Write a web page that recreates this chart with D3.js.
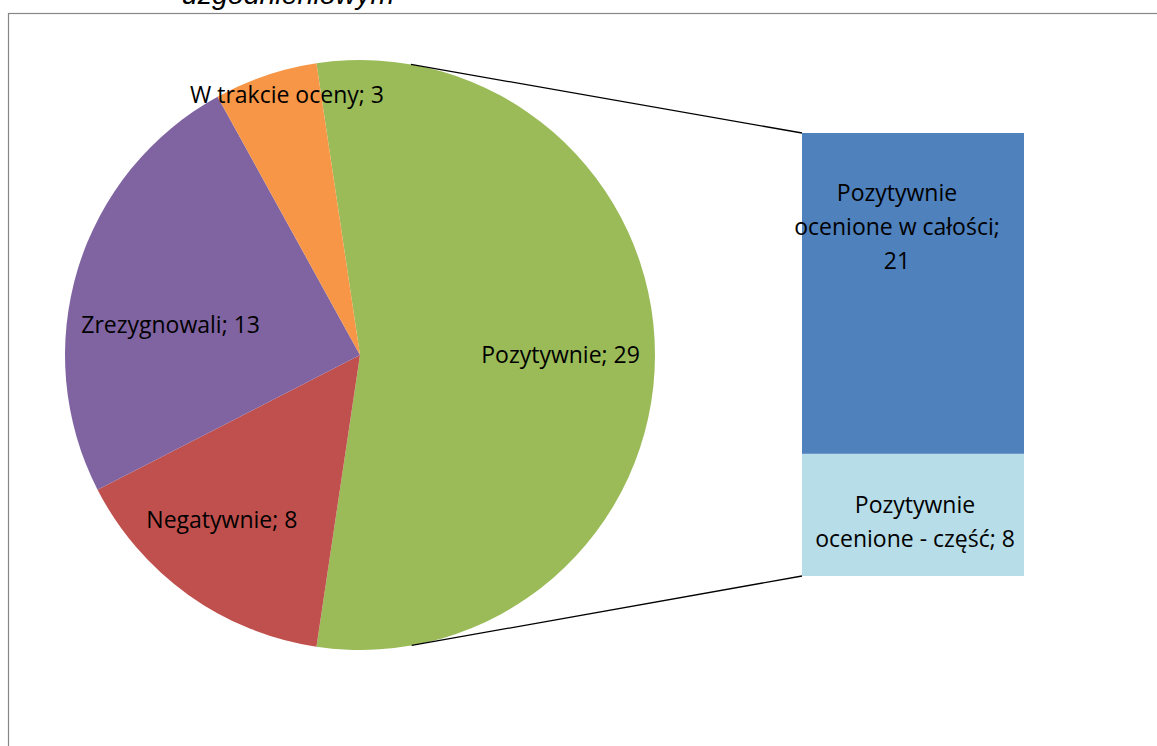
<!DOCTYPE html>
<html>
<head>
<meta charset="utf-8">
<script src="https://cdn.jsdelivr.net/npm/d3@7"></script>
<style>
  html, body { margin: 0; padding: 0; background: #fff; }
  svg { display: block; }
</style>
</head>
<body>
<svg id="chart" width="1157" height="746"></svg>
<script>
// ---- data ----
const titleLines = ["uzgodnieniowym"];
const pieCategories = ["Pozytywnie", "Negatywnie", "Zrezygnowali", "W trakcie oceny"];
const pieValues = [29, 8, 13, 3];
const barCategories = ["Pozytywnie ocenione - część", "Pozytywnie ocenione w całości"];
const barValues = [8, 21];

// ---- styles / layout ----
const pieColors = ["#9BBB59", "#C0504D", "#8064A2", "#F79646"];
const barColors = ["#B7DDE8", "#4F81BD"];
const labelFont = "'Open Sans', sans-serif";
const labelSize = 23;
// label anchor: [angle in degrees clockwise from 12 o'clock, radius fraction]
const pieLabelAnchors = [[90, 0.68], [219.9, 0.73], [279, 0.65], [344.3, 0.915]];
// line wrapping of bar labels
const barLabelWrap = [["Pozytywnie", "ocenione - część; 8"], ["Pozytywnie", "ocenione w całości;", "21"]];
const barLabelCenterX = [915, 897];

const svg = d3.select("#chart");

// frame
svg.append("rect")
  .attr("x", 8.5).attr("y", 13.5)
  .attr("width", 1200).attr("height", 800)
  .attr("fill", "none").attr("stroke", "#868686").attr("stroke-width", 1.2);

// title (only the last line is visible)
svg.append("text")
  .attr("x", 288).attr("y", 4)
  .attr("text-anchor", "middle")
  .attr("font-family", "'Liberation Sans', Arial, sans-serif")
  .attr("font-style", "italic")
  .attr("font-size", 28.5)
  .attr("fill", "#000")
  .text(titleLines[titleLines.length - 1]);

// ---- pie ----
const cx = 360, cy = 355, R = 295;
const total = d3.sum(pieValues);
const start = Math.PI / 2 - Math.PI * pieValues[0] / total;
const pie = d3.pie().sort(null).value(d => d).startAngle(start).endAngle(start + 2 * Math.PI);
const arcs = pie(pieValues);
const arc = d3.arc().innerRadius(0).outerRadius(R);

const gPie = svg.append("g").attr("transform", `translate(${cx},${cy})`);
gPie.selectAll("path").data(arcs).enter().append("path")
  .attr("d", arc)
  .attr("fill", (d, i) => pieColors[i]);

gPie.selectAll("text.pl").data(arcs).enter().append("text")
  .attr("class", "pl")
  .attr("x", (d, i) => Math.sin(pieLabelAnchors[i][0] * Math.PI / 180) * R * pieLabelAnchors[i][1])
  .attr("y", (d, i) => -Math.cos(pieLabelAnchors[i][0] * Math.PI / 180) * R * pieLabelAnchors[i][1])
  .attr("dy", "0.35em")
  .attr("text-anchor", "middle")
  .attr("font-family", labelFont)
  .attr("font-size", labelSize)
  .attr("fill", "#000")
  .text((d, i) => `${pieCategories[i]}; ${pieValues[i]}`);

// ---- bar (second plot) ----
const barX = 802, barW = 222;
const y = d3.scaleLinear().domain([0, d3.sum(barValues)]).range([576, 133]);
let acc = 0;
const stacks = barValues.map(v => { const s = { y0: acc, y1: acc + v }; acc += v; return s; });

svg.selectAll("rect.bar").data(stacks).enter().append("rect")
  .attr("class", "bar")
  .attr("x", barX).attr("width", barW)
  .attr("y", d => y(d.y1))
  .attr("height", d => y(d.y0) - y(d.y1))
  .attr("fill", (d, i) => barColors[i]);

// bar labels
const lineH = 34;
stacks.forEach((s, i) => {
  const lines = barLabelWrap[i];
  const top = y(s.y1);
  const baseFirst = i === 1 ? top + 68 : top + 59;
  const t = svg.append("text")
    .attr("text-anchor", "middle")
    .attr("font-family", labelFont)
    .attr("font-size", labelSize)
    .attr("fill", "#000");
  lines.forEach((ln, k) => {
    t.append("tspan").attr("x", barLabelCenterX[i]).attr("y", baseFirst + k * lineH).text(ln);
  });
});

// ---- connector lines: tangents from bar corners to the pie ----
function tangentPoint(px, py, upper) {
  const dx = px - cx, dy = py - cy;
  const d = Math.hypot(dx, dy);
  const base = Math.atan2(dy, dx);
  const off = Math.acos(R / d);
  const a = upper ? base - off : base + off;
  return [cx + R * Math.cos(a), cy + R * Math.sin(a)];
}
const topCorner = [barX, y(d3.sum(barValues))];
const botCorner = [barX, y(0)];
const tp1 = tangentPoint(topCorner[0], topCorner[1], true);
const tp2 = tangentPoint(botCorner[0], botCorner[1], false);
[[tp1, topCorner], [tp2, botCorner]].forEach(([a, b]) => {
  svg.append("line")
    .attr("x1", a[0]).attr("y1", a[1])
    .attr("x2", b[0]).attr("y2", b[1])
    .attr("stroke", "#000").attr("stroke-width", 1.3);
});
</script>
</body>
</html>
